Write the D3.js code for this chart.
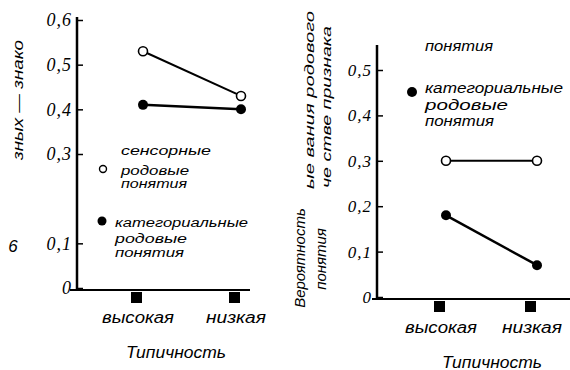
<!DOCTYPE html>
<html>
<head>
<meta charset="utf-8">
<script src="https://cdn.jsdelivr.net/npm/d3@7/dist/d3.min.js"></script>
<style>
  html, body { margin: 0; padding: 0; background: #fff; }
  svg { display: block; }
</style>
</head>
<body>
<svg id="chart" width="570" height="370"></svg>
<script>
// Categories of typicality
const categories = ["высокая", "низкая"];

// Left panel series
const leftSensory = [0.53, 0.43];
const leftCategorial = [0.41, 0.40];
const leftTicks = [0, 0.1, 0.3, 0.4, 0.5, 0.6];
const leftTickLabels = ["0", "0,1", "0,3", "0,4", "0,5", "0,6"];

// Right panel series
const rightSensory = [0.30, 0.30];
const rightCategorial = [0.18, 0.07];
const rightTicks = [0, 0.1, 0.2, 0.3, 0.4, 0.5];
const rightTickLabels = ["0", "0,1", "0,2", "0,3", "0,4", "0,5"];

const xTitle = "Типичность";

const svg = d3.select("#chart");
svg.append("rect").attr("width", 570).attr("height", 370).attr("fill", "#fff");

const serif = "'Liberation Serif', 'DejaVu Serif', serif";
const sans = "'Liberation Sans', Arial, sans-serif";

function panel(cfg) {
  const g = svg.append("g");
  const x = d3.scalePoint().domain(categories).range(cfg.xRange);
  const y = d3.scaleLinear().domain(cfg.yDomain).range(cfg.yRange);

  // vertical axis
  g.append("line")
    .attr("x1", cfg.axisX).attr("x2", cfg.axisX)
    .attr("y1", cfg.axisTop).attr("y2", cfg.baseY)
    .attr("stroke", "#000").attr("stroke-width", 2.5);

  const labelFor = d => cfg.tickLabels[cfg.ticks.indexOf(d)];
  const ya = g.append("g")
    .attr("transform", `translate(${cfg.axisX},0)`)
    .call(d3.axisLeft(y).tickValues(cfg.ticks).tickSize(-6).tickPadding(5).tickFormat(labelFor));
  ya.select(".domain").remove();
  ya.selectAll(".tick line").attr("stroke", "#000").attr("stroke-width", 1.5);
  ya.selectAll(".tick text")
    .attr("font-family", serif).attr("font-style", "italic")
    .attr("font-size", cfg.tickSize).attr("letter-spacing", 1).attr("fill", "#000");

  // horizontal axis
  g.append("line")
    .attr("x1", cfg.baseX0).attr("x2", cfg.baseX1)
    .attr("y1", cfg.baseY).attr("y2", cfg.baseY)
    .attr("stroke", "#000").attr("stroke-width", 2);

  // category markers and labels
  g.selectAll(".sq").data(categories).join("rect")
    .attr("x", d => x(d) - 12).attr("y", cfg.baseY + 2)
    .attr("width", 11).attr("height", 11).attr("fill", "#000");
  g.selectAll(".cat").data(categories).join("text")
    .attr("x", d => x(d) - 5).attr("y", cfg.baseY + cfg.catDy)
    .attr("text-anchor", "middle")
    .attr("font-family", sans).attr("font-style", "italic").attr("font-size", 16)
    .attr("textLength", (d, i) => i === 0 ? 72 : 60)
    .attr("lengthAdjust", "spacingAndGlyphs")
    .text(d => d);

  g.append("text")
    .attr("x", cfg.titleX).attr("y", cfg.titleY)
    .attr("text-anchor", "middle")
    .attr("font-family", sans).attr("font-style", "italic").attr("font-size", 16)
    .attr("textLength", 100).attr("lengthAdjust", "spacingAndGlyphs")
    .text(xTitle);

  // series lines
  const line = d3.line().x((d, i) => x(categories[i])).y(d => y(d));
  g.append("path").datum(cfg.sensory).attr("d", line)
    .attr("fill", "none").attr("stroke", "#000").attr("stroke-width", 2);
  g.append("path").datum(cfg.categorial).attr("d", line)
    .attr("fill", "none").attr("stroke", "#000").attr("stroke-width", 2.5);

  g.selectAll(".open").data(cfg.sensory).join("circle")
    .attr("cx", (d, i) => x(categories[i])).attr("cy", d => y(d))
    .attr("r", 4.5).attr("fill", "#fff").attr("stroke", "#000").attr("stroke-width", 1.6);
  g.selectAll(".filled").data(cfg.categorial).join("circle")
    .attr("cx", (d, i) => x(categories[i])).attr("cy", d => y(d))
    .attr("r", 5).attr("fill", "#000");
  return g;
}

panel({
  xRange: [143, 241], yDomain: [0, 0.6], yRange: [288, 20],
  axisX: 77, axisTop: 17, baseY: 290, baseX0: 70, baseX1: 250,
  ticks: leftTicks, tickLabels: leftTickLabels, tickSize: 18,
  sensory: leftSensory, categorial: leftCategorial,
  catDy: 33, titleX: 176, titleY: 358
});

panel({
  xRange: [446, 537], yDomain: [0, 0.5], yRange: [297, 70],
  axisX: 377, axisTop: 45, baseY: 299, baseX0: 372, baseX1: 570,
  ticks: rightTicks, tickLabels: rightTickLabels, tickSize: 17,
  sensory: rightSensory, categorial: rightCategorial,
  catDy: 34, titleX: 492, titleY: 368
});

// legend text
function words(lines, x, fontSize) {
  lines.forEach(([t, y, w]) => {
    svg.append("text")
      .attr("x", x).attr("y", y)
      .attr("font-family", sans).attr("font-style", "italic").attr("font-size", fontSize)
      .attr("textLength", w).attr("lengthAdjust", "spacingAndGlyphs")
      .text(t);
  });
}

// left legend
svg.append("circle").attr("cx", 103).attr("cy", 169).attr("r", 3.5)
  .attr("fill", "#fff").attr("stroke", "#000").attr("stroke-width", 1.4);
words([["сенсорные", 155, 90], ["родовые", 175, 68], ["понятия", 188, 66]], 121, 12);
svg.append("circle").attr("cx", 102).attr("cy", 221).attr("r", 4.5).attr("fill", "#000");
words([["категориальные", 227, 133], ["родовые", 243, 72], ["понятия", 257, 69]], 115, 12);

// right legend
words([["понятия", 51, 68]], 425, 14);
svg.append("circle").attr("cx", 412).attr("cy", 92).attr("r", 5).attr("fill", "#000");
words([["категориальные", 93, 138], ["родовые", 110, 83], ["понятия", 126, 69]], 425, 14);

// rotated axis titles
function vtext(t, cx, cy, size, len) {
  const el = svg.append("text")
    .attr("transform", `translate(${cx},${cy}) rotate(-90)`)
    .attr("text-anchor", "middle").attr("dy", "0.35em")
    .attr("font-family", sans).attr("font-style", "italic").attr("font-size", size)
    .text(t);
  if (len) el.attr("textLength", len).attr("lengthAdjust", "spacingAndGlyphs");
}
vtext("зных — знако", 18, 100, 14, 120);
vtext("Вероятность", 300, 258, 15);
vtext("понятия", 321, 259, 15);
vtext("ые вания родового", 309, 100, 13, 178);
vtext("че стве признака", 326, 107, 13, 162);

svg.append("text").attr("x", 13).attr("y", 252).attr("text-anchor", "middle")
  .attr("font-family", sans).attr("font-style", "italic").attr("font-size", 17).text("6");
</script>
</body>
</html>
